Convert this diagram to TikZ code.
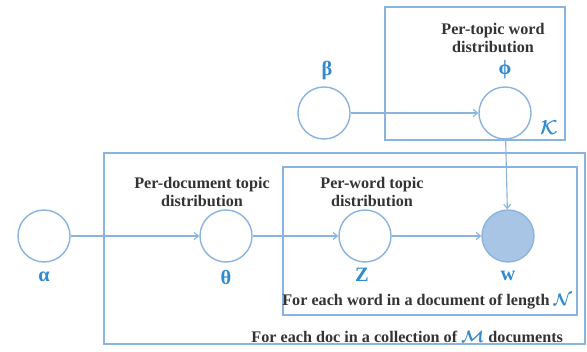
\documentclass[tikz,border=0pt]{standalone}
\usepackage{amsmath}
\usepackage{bm}
\usepackage{fontspec}
\setmainfont{Liberation Serif}
\usepackage{xcolor}
\usetikzlibrary{arrows.meta,calc,positioning}
\definecolor{Canvas}{HTML}{FFFFFF}
\definecolor{PlateLine}{HTML}{8AB4E0}
\definecolor{SymInk}{HTML}{2F8AD0}
\definecolor{ObsFill}{HTML}{A9C5E6}
\definecolor{TextInk}{HTML}{333333}

\begin{document}
\begin{tikzpicture}[x=0.025cm,y=0.025cm,every node/.style={font=\bfseries\fontsize{11.5}{13.5}\selectfont,text=TextInk},var/.style={circle,draw=PlateLine,line width=1pt,minimum size=1.3cm,inner sep=0pt},sym/.style={text=SymInk,font=\bfseries\fontsize{14.5}{15}\selectfont},plate/.style={draw=PlateLine,line width=1pt},edge/.style={-{Straight Barb[length=3pt,width=5pt]},line width=0.8pt,draw=PlateLine}]
\fill[Canvas] (0,0) rectangle (587,352);

\draw[plate] (385,212) rectangle (565,345);
\draw[plate] (104,8) rectangle (585,199);
\draw[plate] (283,37) rectangle (577,185);

\node[var] (alpha) at (44,116) {};
\node[var] (theta) at (226,116) {};
\node[var] (z) at (365,116) {};
\node[var,fill=ObsFill] (w) at (508,116) {};
\node[var] (beta) at (324,239) {};
\node[var] (phi) at (505,239) {};

\node[sym] (alphalbl) at (44,75) {α};
\node[sym] (thetalbl) at (226,75) {θ};
\node[sym] (zlbl) at (362,77) {Z};
\node[sym] (wlbl) at (508,76) {w};
\node[sym] (betalbl) at (327,281) {β};
\node[sym] (philbl) at (505,282) {ϕ};
\node[sym] (klbl) at (549,224) {$\bm{\mathcal{K}}$};

\node[align=center] (phitxt) at (493,314) {Per-topic word\\distribution};
\node[align=center] (thetatxt) at (202,160) {Per-document topic\\distribution};
\node[align=center] (ztxt) at (372,160) {Per-word topic\\distribution};
\node[anchor=east] (ntxt) at (577,50) {For each word in a document of length \textcolor{SymInk}{$\bm{\mathcal{N}}$}};
\node[anchor=east] (mtxt) at (568,15) {For each doc in a collection of \textcolor{SymInk}{$\bm{\mathcal{M}}$} documents};

\draw[edge] (alpha) -- (theta);
\draw[edge] (theta) -- (z);
\draw[edge] (z) -- (w);
\draw[edge] (beta) -- (phi);
\draw[edge] (phi) -- (w);

\end{tikzpicture}
\end{document}
